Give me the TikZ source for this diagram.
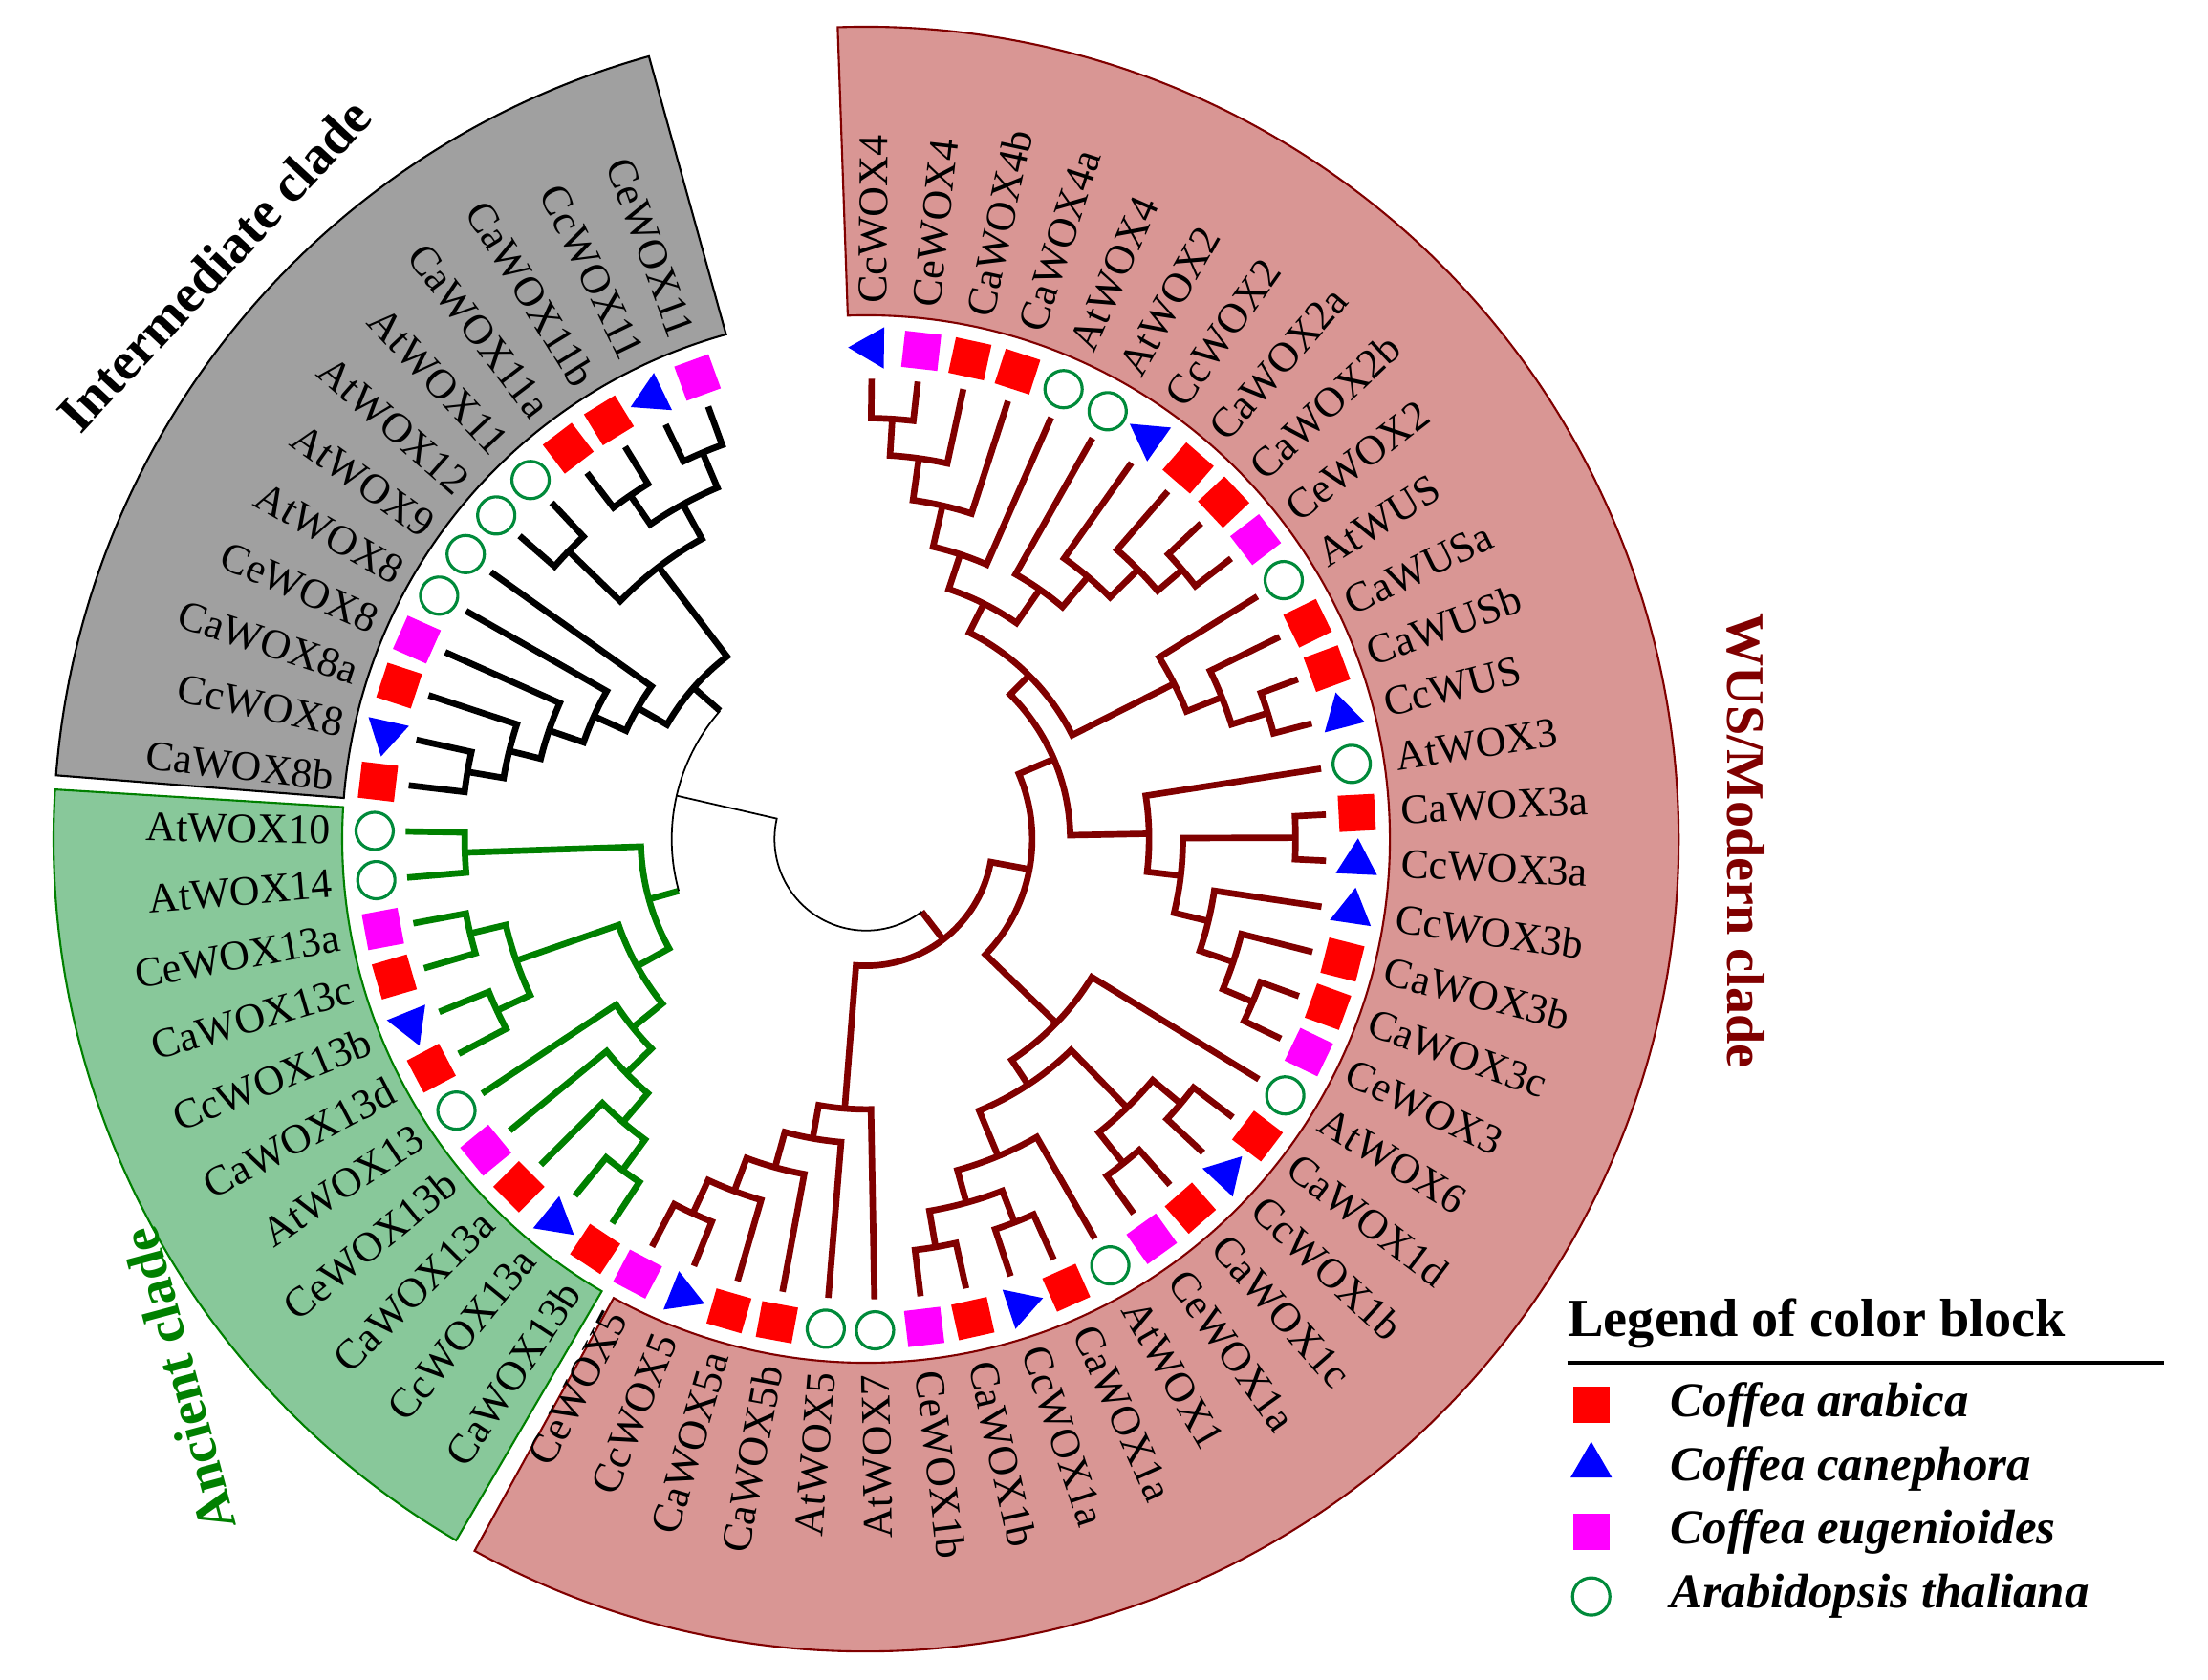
\documentclass[tikz,border=0pt]{standalone}
\usepackage{fontspec}
\setmainfont{Liberation Serif}
\usetikzlibrary{shapes.geometric}

\definecolor{wusred}{HTML}{800000}
\definecolor{ancgreen}{HTML}{008000}
\definecolor{wusfill}{HTML}{D99694}
\definecolor{ancfill}{HTML}{88C89A}
\definecolor{midfill}{HTML}{A0A0A0}
\definecolor{cared}{HTML}{FF0000}
\definecolor{ccblue}{HTML}{0000FF}
\definecolor{cemag}{HTML}{FF00FF}
\definecolor{atgreen}{HTML}{008A3A}

% leaf index -> angle
\pgfmathdeclarefunction{lf}{1}{\pgfmathparse{89.3-5.75*(#1)}}
% node radius, first child index, its radius, last child index, its radius
\newcommand\clade[5]{\draw ({lf(#2)}:#3) -- ({lf(#2)}:#1) arc[start angle={lf(#2)}, end angle={lf(#4)}, radius=#1] -- ({lf(#4)}:#5);}
\newcommand\leafr[3]{\node[lab, anchor=west, rotate={lf(#1)}] (t#1) at ({lf(#1)}:380) {#2};
  \node[#3, rotate={lf(#1)}] (m#1) at ({lf(#1)}:349) {};}
\newcommand\leafl[3]{\node[lab, anchor=east, rotate={lf(#1)+180}] (t#1) at ({lf(#1)}:380) {#2};
  \node[#3, rotate={lf(#1)}] (m#1) at ({lf(#1)}:349) {};}
\def\tp{327}

\begin{document}
\begin{tikzpicture}[x=0.014732cm, y=0.014732cm,
  lab/.style={font=\fontsize{12.5}{14}\selectfont, inner sep=0pt},
  wus/.style={draw=wusred, line width=1.9pt},
  anc/.style={draw=ancgreen, line width=1.9pt},
  mid/.style={draw=black, line width=1.9pt},
  rootline/.style={draw=black, line width=0.5pt},
  arab/.style={rectangle, fill=cared, minimum size=0.38cm, inner sep=0pt},
  eugen/.style={rectangle, fill=cemag, minimum size=0.38cm, inner sep=0pt},
  cane/.style={regular polygon, regular polygon sides=3, fill=ccblue, minimum size=0.5cm, inner sep=0pt},
  thal/.style={circle, draw=atgreen, line width=0.9pt, fill=white, minimum size=0.39cm, inner sep=0pt},
  cladetitle/.style={font=\fontsize{16}{18}\selectfont\bfseries},
  legtxt/.style={font=\fontsize{14.5}{16}\selectfont\bfseries\itshape, anchor=west, inner sep=0pt}]
\useasboundingbox (0,0) rectangle (1568,1193);

\begin{scope}[shift={(615,597)}]
% clade blocks
\draw[fill=wusfill, draw=wusred, line width=0.6pt] (92:372) arc[start angle=92, end angle=-118.8, radius=372] -- (-118.8:577) arc[start angle=-118.8, end angle=92, radius=577] -- cycle;
\draw[fill=ancfill, draw=ancgreen, line width=0.6pt] (176.5:372) arc[start angle=176.5, end angle=239.7, radius=372] -- (239.7:577) arc[start angle=239.7, end angle=176.5, radius=577] -- cycle;
\draw[fill=midfill, draw=black, line width=0.6pt] (105.5:372) arc[start angle=105.5, end angle=175.5, radius=372] -- (175.5:577) arc[start angle=175.5, end angle=105.5, radius=577] -- cycle;

% WUS/modern clade
\begin{scope}[wus]
\clade{299}{0}{\tp}{1}{\tp}
\clade{273}{0.5}{299}{2}{\tp}
\clade{243}{1.25}{273}{3}{\tp}
\clade{213}{2.125}{243}{4}{\tp}
\clade{295}{8}{\tp}{9}{\tp}
\clade{272}{7}{\tp}{8.5}{295}
\clade{244}{6}{\tp}{7.75}{272}
\clade{216}{5}{\tp}{6.875}{244}
\clade{187}{3.0625}{213}{5.9375}{216}
\clade{299}{12}{\tp}{13}{\tp}
\clade{272}{11}{\tp}{12.5}{299}
\clade{245}{10}{\tp}{11.75}{272}
\clade{164}{4.5}{187}{10.875}{245}
\clade{305}{15}{\tp}{16}{\tp}
\clade{298}{19}{\tp}{20}{\tp}
\clade{275}{18}{\tp}{19.5}{298}
\clade{250}{17}{\tp}{18.75}{275}
\clade{225}{15.5}{305}{17.875}{250}
\clade{201}{14}{\tp}{16.6875}{225}
\clade{145}{7.6875}{164}{15.34375}{201}
\clade{292}{22}{\tp}{23}{\tp}
\clade{294}{24}{\tp}{25}{\tp}
\clade{266}{22.5}{292}{24.5}{294}
\clade{292}{27}{\tp}{28}{\tp}
\clade{294}{29}{\tp}{30}{\tp}
\clade{268}{27.5}{292}{29.5}{294}
\clade{244}{26}{\tp}{28.5}{268}
\clade{209}{23.5}{266}{27.25}{244}
\clade{188}{21}{\tp}{25.375}{209}
\clade{118}{11.515625}{145}{23.1875}{188}
\clade{293}{35}{\tp}{36}{\tp}
\clade{267}{34}{\tp}{35.5}{293}
\clade{242}{33}{\tp}{34.75}{267}
\clade{216}{32}{\tp}{33.875}{242}
\clade{192}{31}{\tp}{32.9375}{216}
\clade{90}{17.3515625}{118}{31.96875}{192}
\draw ({lf(24.66015625)}:65) -- ({lf(24.66015625)}:90);
\end{scope}

% ancient clade
\begin{scope}[anc]
\clade{285}{46}{\tp}{47}{\tp}
\clade{289}{44}{\tp}{45}{\tp}
\clade{289}{42}{\tp}{43}{\tp}
\clade{263}{42.5}{289}{44.5}{289}
\clade{292}{37}{\tp}{38}{\tp}
\clade{265}{37.5}{292}{39}{\tp}
\clade{238}{38.25}{265}{40}{\tp}
\clade{213}{39.125}{238}{41}{\tp}
\clade{186}{40.0625}{213}{43.5}{263}
\clade{160}{41.78125}{186}{46.5}{285}
\draw ({lf(44.140625)}:138) -- ({lf(44.140625)}:160);
\end{scope}

% intermediate clade
\begin{scope}[mid]
\clade{287}{48}{\tp}{49}{\tp}
\clade{261}{48.5}{287}{50}{\tp}
\clade{238}{49.25}{261}{51}{\tp}
\clade{212}{50.125}{238}{52}{\tp}
\clade{187}{51.0625}{212}{53}{\tp}
\clade{294}{54}{\tp}{55}{\tp}
\clade{296}{56}{\tp}{57}{\tp}
\clade{298}{58}{\tp}{59}{\tp}
\clade{271}{56.5}{296}{58.5}{298}
\clade{243}{54.5}{294}{57.5}{271}
\clade{163}{52.03125}{187}{56}{243}
\draw ({lf(54.015625)}:138) -- ({lf(54.015625)}:163);
\end{scope}

% root
\draw[rootline] ({lf(24.66015625)}:65) arc[start angle={lf(24.66015625)}, end angle={lf(49.078125)}, radius=65] -- ({lf(49.078125)}:138);
\draw[rootline] ({lf(44.140625)}:138) arc[start angle={lf(44.140625)}, end angle={lf(54.015625)}, radius=138];

% leaves
\leafr{0}{CcWOX4}{cane}
\leafr{1}{CeWOX4}{eugen}
\leafr{2}{CaWOX4b}{arab}
\leafr{3}{CaWOX4a}{arab}
\leafr{4}{AtWOX4}{thal}
\leafr{5}{AtWOX2}{thal}
\leafr{6}{CcWOX2}{cane}
\leafr{7}{CaWOX2a}{arab}
\leafr{8}{CaWOX2b}{arab}
\leafr{9}{CeWOX2}{eugen}
\leafr{10}{AtWUS}{thal}
\leafr{11}{CaWUSa}{arab}
\leafr{12}{CaWUSb}{arab}
\leafr{13}{CcWUS}{cane}
\leafr{14}{AtWOX3}{thal}
\leafr{15}{CaWOX3a}{arab}
\leafr{16}{CcWOX3a}{cane}
\leafr{17}{CcWOX3b}{cane}
\leafr{18}{CaWOX3b}{arab}
\leafr{19}{CaWOX3c}{arab}
\leafr{20}{CeWOX3}{eugen}
\leafr{21}{AtWOX6}{thal}
\leafr{22}{CaWOX1d}{arab}
\leafr{23}{CcWOX1b}{cane}
\leafr{24}{CaWOX1c}{arab}
\leafr{25}{CeWOX1a}{eugen}
\leafr{26}{AtWOX1}{thal}
\leafr{27}{CaWOX1a}{arab}
\leafr{28}{CcWOX1a}{cane}
\leafr{29}{CaWOX1b}{arab}
\leafr{30}{CeWOX1b}{eugen}
\leafl{31}{AtWOX7}{thal}
\leafl{32}{AtWOX5}{thal}
\leafl{33}{CaWOX5b}{arab}
\leafl{34}{CaWOX5a}{arab}
\leafl{35}{CcWOX5}{cane}
\leafl{36}{CeWOX5}{eugen}
\leafl{37}{CaWOX13b}{arab}
\leafl{38}{CcWOX13a}{cane}
\leafl{39}{CaWOX13a}{arab}
\leafl{40}{CeWOX13b}{eugen}
\leafl{41}{AtWOX13}{thal}
\leafl{42}{CaWOX13d}{arab}
\leafl{43}{CcWOX13b}{cane}
\leafl{44}{CaWOX13c}{arab}
\leafl{45}{CeWOX13a}{eugen}
\leafl{46}{AtWOX14}{thal}
\leafl{47}{AtWOX10}{thal}
\leafl{48}{CaWOX8b}{arab}
\leafl{49}{CcWOX8}{cane}
\leafl{50}{CaWOX8a}{arab}
\leafl{51}{CeWOX8}{eugen}
\leafl{52}{AtWOX8}{thal}
\leafl{53}{AtWOX9}{thal}
\leafl{54}{AtWOX12}{thal}
\leafl{55}{AtWOX11}{thal}
\leafl{56}{CaWOX11a}{arab}
\leafl{57}{CaWOX11b}{arab}
\leafl{58}{CcWOX11}{cane}
\leafl{59}{CeWOX11}{eugen}
\end{scope}

% clade titles
\node[cladetitle, text=wusred, rotate=-90] (wustitle) at (1240,596) {WUS/Modern clade};
\node[cladetitle, rotate=47] (midtitle) at (152,1005) {Intermediate clade};
\node[cladetitle, text=ancgreen, rotate=105] (anctitle) at (127,213) {Ancient clade};

% legend
\node[font=\fontsize{16}{18}\selectfont\bfseries, anchor=west, inner sep=0pt] (legtitle) at (1113,253) {Legend of color block};
\coordinate (ul1) at (1113,225);
\coordinate (ul2) at (1537,225);
\draw[line width=1.2pt] (ul1) -- (ul2);
\node[arab] (la) at (1130,195) {};
\node[cane] (lc) at (1130,152) {};
\node[eugen] (le) at (1130,105) {};
\node[thal] (lt) at (1130,59) {};
\node[legtxt] (ta) at (1186,195) {Coffea arabica};
\node[legtxt] (tc) at (1186,150) {Coffea canephora};
\node[legtxt] (te) at (1186,105) {Coffea eugenioides};
\node[legtxt] (tt) at (1186,59) {Arabidopsis thaliana};
\end{tikzpicture}
\end{document}
